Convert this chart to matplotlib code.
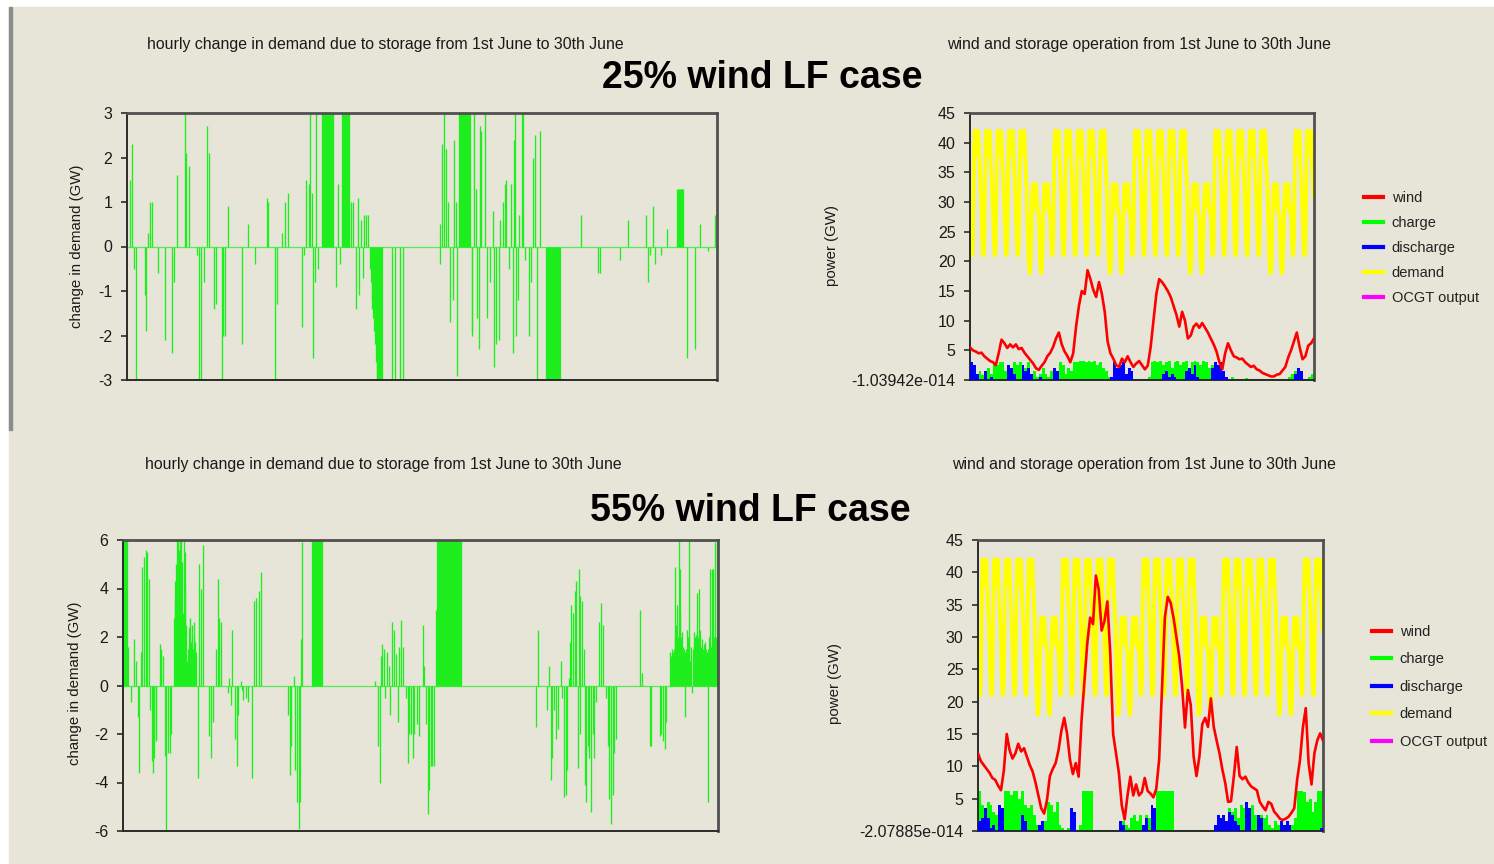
import numpy as np
import matplotlib.pyplot as plt
from matplotlib.lines import Line2D
from matplotlib.patches import Rectangle

plt.rcParams['font.family'] = ['Liberation Sans', 'DejaVu Sans']
plt.rcParams['axes.unicode_minus'] = False

# ---- demand (same for both cases): hourly profile per day type
weekday_profile = [29, 26, 23.5, 22, 21, 21.5, 24, 30, 36, 40, 42, 41,
                   39, 38, 38.5, 39, 40, 42, 41, 38, 36, 35, 33, 31]
weekend_profile = [28, 25, 22, 20, 18.5, 18, 18.5, 20, 23, 27, 30, 32,
                   33, 32, 30, 29, 29.5, 31, 33, 32, 30, 29, 28.5, 28]
day_types = "WWWWWEEWWWWWEEWWWWWEEWWWWWEEWW"   # 1st June .. 30th June

# ---- wind output, read every 6 hours (GW)
wind_25 = [5.5, 5.0, 4.8, 4.5, 4.6, 4.0, 3.6, 3.2, 3.0, 2.5,
           4.5, 6.8, 6.2, 5.4, 6.0, 5.5, 6.0, 5.2, 5.4, 4.6,
           4.0, 3.4, 2.8, 2.0, 1.7, 2.4, 3.0, 4.0, 4.6, 5.6,
           7.0, 8.0, 6.0, 4.8, 4.0, 3.0, 4.5, 9.0, 12.5, 15.0,
           14.5, 18.5, 17.0, 15.2, 14.0, 16.5, 14.5, 11.5, 6.5, 4.5,
           3.6, 2.5, 2.2, 3.6, 3.0, 4.0, 3.0, 2.2, 2.8, 3.2,
           2.5, 1.8, 2.4, 5.5, 10.0, 14.5, 17.0, 16.5, 15.8, 15.0,
           14.0, 12.5, 11.0, 9.0, 11.5, 10.0, 7.0, 7.5, 9.0, 9.5,
           8.8, 9.6, 8.8, 8.0, 7.0, 6.0, 4.8, 3.0, 1.8, 4.5,
           6.2, 5.0, 4.0, 3.8, 3.5, 3.6, 3.0, 2.6, 2.2, 2.4,
           1.8, 1.6, 1.2, 1.0, 0.8, 0.6, 0.6, 0.9, 1.0, 1.6,
           2.2, 3.8, 5.0, 6.5, 8.0, 5.5, 3.5, 4.0, 5.8, 6.2,
           7.0]
wind_55 = [12.0, 10.8, 10.2, 9.6, 9.0, 8.2, 7.9, 7.0, 6.3, 9.4,
           15.0, 12.5, 11.2, 12.0, 13.5, 12.3, 12.8, 11.5, 10.2, 9.2,
           7.5, 5.5, 3.5, 2.7, 4.8, 8.5, 9.6, 10.5, 12.5, 15.5,
           17.5, 15.0, 11.0, 8.8, 10.5, 8.4, 17.0, 23.0, 29.0, 33.0,
           32.0, 39.5, 37.3, 31.0, 32.5, 35.5, 27.5, 15.0, 12.0, 9.0,
           4.0, 1.8, 5.5, 8.4, 5.5, 7.2, 5.5, 6.0, 8.2, 6.2,
           5.8, 5.2, 6.5, 11.0, 22.0, 33.0, 36.2, 35.3, 33.0, 30.0,
           27.0, 22.3, 16.0, 21.8, 19.5, 11.5, 8.5, 11.5, 16.5, 17.5,
           16.1, 20.5, 16.1, 14.0, 12.0, 9.5, 7.4, 4.5, 4.6, 8.5,
           13.0, 8.5, 8.0, 8.4, 7.5, 6.9, 6.6, 6.3, 4.5, 3.8,
           3.2, 4.5, 4.2, 3.0, 2.5, 1.9, 1.7, 1.9, 2.2, 2.8,
           3.5, 7.9, 11.0, 16.0, 19.0, 10.5, 7.2, 12.0, 14.0, 15.1,
           14.0]

# ---- storage charge / discharge, 6-hour blocks (GW)
charge_25 = [0.5, 1.0, 0.5, 1.5, 0.8, 1.0, 2.0, 1.0, 3.0, 2.5,
             3.0, 3.0, 1.5, 2.5, 1.0, 3.0, 2.5, 3.0, 1.5, 2.0,
             3.0, 1.0, 1.5, 0.5, 1.0, 2.0, 1.0, 0.5, 1.5, 0.5,
             1.0, 3.0, 2.5, 1.0, 2.0, 1.5, 3.0, 3.0, 3.2, 3.2,
             3.0, 3.2, 3.0, 3.2, 2.5, 3.0, 2.0, 1.5, 0.5, 0.0,
             0.0, 0.5, 1.0, 0.0, 0.5, 0.0, 0.0, 0.0, 0.0, 0.0,
             0.0, 0.0, 0.5, 3.0, 3.2, 3.0, 3.2, 2.5, 3.0, 3.2,
             2.0, 3.0, 3.2, 2.5, 3.0, 3.2, 2.0, 3.0, 3.2, 3.0,
             2.5, 3.2, 3.0, 2.0, 2.5, 1.5, 1.0, 0.0, 0.5, 0.0,
             0.0, 0.5, 0.0, 0.0, 0.0, 0.0, 0.3, 0.0, 0.0, 0.0,
             0.0, 0.0, 0.0, 0.0, 0.0, 0.0, 0.0, 0.0, 0.0, 0.0,
             0.0, 0.5, 1.0, 1.5, 1.2, 0.0, 0.0, 0.0, 0.5, 1.0]
discharge_25 = [3.0, 2.5, 1.0, 0.0, 0.0, 1.5, 0.0, 0.5, 0.0, 0.0,
                0.0, 0.0, 0.0, 2.5, 2.0, 1.0, 0.0, 0.0, 2.5, 1.5,
                2.0, 1.0, 0.0, 0.0, 0.5, 0.0, 0.0, 0.0, 0.0, 2.0,
                1.5, 0.0, 0.0, 0.0, 0.0, 0.0, 0.0, 0.0, 0.0, 0.0,
                0.0, 0.0, 0.0, 0.0, 0.0, 0.0, 0.0, 0.0, 0.0, 0.5,
                3.0, 2.0, 2.5, 3.0, 1.0, 2.0, 1.5, 0.0, 0.0, 0.0,
                0.0, 0.0, 0.0, 0.0, 0.0, 0.0, 0.0, 1.0, 1.5, 0.5,
                1.0, 0.5, 0.0, 0.0, 0.0, 1.5, 2.0, 1.0, 2.5, 0.5,
                0.0, 0.0, 0.0, 0.0, 2.0, 3.0, 2.5, 3.0, 1.5, 0.5,
                0.0, 0.0, 0.0, 0.0, 0.0, 0.0, 0.0, 0.0, 0.0, 0.0,
                0.0, 0.0, 0.0, 0.0, 0.0, 0.0, 0.0, 0.0, 0.0, 0.0,
                0.0, 0.0, 0.0, 1.0, 2.0, 1.5, 0.0, 0.0, 0.0, 0.0]
charge_55 = [6.2, 4.0, 2.0, 4.5, 4.0, 3.0, 2.5, 0.5, 1.0, 6.2,
             6.2, 5.5, 6.2, 6.2, 5.0, 6.2, 4.0, 3.5, 4.0, 2.5,
             1.0, 0.5, 0.5, 1.5, 4.5, 4.0, 3.0, 4.5, 1.0, 0.5,
             0.0, 0.5, 0.0, 0.5, 0.0, 1.0, 6.2, 6.2, 6.2, 6.2,
             0.0, 0.0, 0.0, 0.0, 0.0, 0.0, 0.0, 0.0, 0.0, 0.5,
             1.5, 1.0, 0.5, 2.0, 2.5, 1.5, 2.5, 0.5, 2.5, 2.0,
             1.5, 0.5, 6.2, 6.2, 6.2, 6.2, 6.2, 6.2, 0.0, 0.0,
             0.0, 0.0, 0.0, 0.0, 0.0, 0.0, 0.0, 0.0, 0.0, 0.0,
             0.0, 0.0, 1.0, 1.5, 2.0, 2.5, 1.5, 3.5, 3.0, 3.5,
             2.0, 4.0, 3.5, 4.5, 3.0, 4.0, 2.5, 0.5, 2.5, 2.0,
             2.5, 1.0, 0.5, 1.5, 1.0, 1.5, 1.0, 1.0, 0.5, 1.0,
             2.0, 6.2, 6.2, 6.0, 4.5, 5.0, 3.0, 4.5, 6.2, 6.2]
discharge_55 = [1.5, 2.0, 3.5, 2.0, 0.5, 1.0, 0.0, 4.0, 3.5, 0.0,
                0.0, 0.0, 0.0, 0.0, 0.0, 2.5, 1.5, 0.0, 0.0, 0.0,
                0.0, 1.0, 1.5, 0.0, 0.0, 0.0, 0.0, 0.0, 0.0, 0.0,
                0.0, 0.0, 3.5, 3.0, 0.0, 0.0, 0.0, 0.0, 0.0, 0.0,
                0.0, 0.0, 0.0, 0.0, 0.0, 0.0, 0.0, 0.0, 0.0, 1.5,
                1.0, 0.0, 0.0, 0.0, 0.0, 0.0, 0.0, 1.0, 2.0, 0.0,
                4.0, 3.5, 0.0, 0.0, 0.0, 0.0, 0.0, 0.0, 0.0, 0.0,
                0.0, 0.0, 0.0, 0.0, 0.0, 0.0, 0.0, 0.0, 0.0, 0.0,
                0.0, 0.0, 1.0, 2.5, 2.0, 2.5, 1.5, 3.0, 2.5, 1.5,
                1.0, 0.0, 0.0, 4.5, 3.5, 0.0, 0.0, 2.5, 2.0, 0.0,
                0.0, 0.0, 0.0, 0.0, 0.0, 1.5, 1.0, 1.5, 1.0, 0.0,
                0.0, 0.0, 0.0, 0.0, 0.0, 0.0, 0.0, 0.0, 0.0, 0.5]

# ---- hourly change in demand: (hour, GW) spikes and (first, last, GW) runs
spikes_25 = [(3, 1.5), (5, 2.3), (8, -0.5), (11, -3.0), (21, -1.1), (23, -1.9), (25, 0.3),
             (27, 1.0), (30, 1.0), (37, -0.6), (46, -2.1), (54, -2.4), (57, -0.8), (61, 1.6),
             (70, 3.0), (72, 2.1), (75, 1.8), (85, -0.2), (87, -3.0), (90, -3.0), (94, -0.8),
             (97, 2.7), (99, 2.1), (106, -1.4), (108, -1.3), (115, -3.0), (117, -2.0), (119, -2.0),
             (123, 0.9), (140, -2.2), (147, 0.5), (156, -0.4), (170, 1.1), (172, 1.0), (180, -3.0),
             (183, -1.3), (189, 0.3), (192, 1.0), (196, 1.2), (213, -1.8), (215, -0.2), (218, 1.5),
             (221, 1.4), (223, 3.0), (225, 1.2), (227, -2.5), (229, -0.8), (230, 3.0), (233, -0.5),
             (255, -0.9), (257, 1.4), (259, -0.4), (273, 1.0), (275, 1.0), (279, -1.4), (281, 1.1),
             (283, -1.1), (285, 0.6), (287, -0.7), (289, 0.7), (291, 0.7), (294, 0.7), (296, -0.5),
             (297, -0.8), (298, -1.2), (299, -1.4), (300, -1.6), (301, -1.9), (302, -2.2), (303, -2.6),
             (323, -3.0), (326, -3.0), (333, -3.0), (336, -3.0), (381, 0.5), (382, -0.4), (384, 2.3),
             (386, 3.0), (389, 2.2), (391, 1.0), (394, -1.7), (397, -1.2), (399, 2.4), (401, 1.0),
             (402, -2.9), (420, -2.0), (421, -1.9), (423, 3.0), (425, 1.3), (427, -1.6), (429, -2.3),
             (430, 2.7), (432, 2.6), (436, 3.0), (439, -1.6), (442, -0.8), (446, 0.8), (447, -2.7),
             (450, -2.2), (453, -2.1), (455, 0.6), (458, 1.0), (461, 1.4), (462, 1.5), (466, -0.5),
             (468, 1.4), (470, -2.4), (472, 2.4), (473, 3.0), (474, -2.0), (477, -1.2), (478, 0.7),
             (481, 3.0), (483, 3.0), (485, -0.3), (490, -2.0), (492, -0.8), (495, 2.0), (498, 2.5),
             (500, -3.0), (503, 2.6), (553, 0.7), (574, -0.6), (577, -0.6), (601, -0.3), (611, 0.6),
             (633, 0.7), (635, -0.8), (638, -0.2), (642, 0.9), (644, -0.4), (651, -0.2), (659, 0.4),
             (683, -2.5), (693, -2.3), (699, 0.5), (709, -0.1), (717, 0.7), (719, -0.8)]
runs_25 = [(238, 251, 3.0), (262, 270, 3.0), (304, 311, -3.0), (405, 418, 3.0),
           (511, 528, -3.0), (671, 678, 1.3)]

spikes_55 = [(5, 1.6), (9, -0.7), (13, 1.9), (15, 1.0), (18, -1.3), (19, -3.6), (21, 1.4), (23, 4.9),
             (25, 5.3), (27, 5.6), (29, 5.5), (31, 4.4), (32, -1.0), (34, -3.1), (36, -3.6), (37, -3.0),
             (39, -2.3), (40, -2.2), (44, 1.7), (46, 1.5), (48, 1.2), (50, -2.9), (52, -6.0), (54, -2.8),
             (56, -2.8), (58, -2.0), (61, 2.8), (62, 3.5), (63, 4.3), (64, 5.0), (65, 6.0), (66, 6.0),
             (67, 5.6), (68, 4.5), (69, 6.0), (70, 6.0), (71, 5.1), (72, 3.0), (73, 6.0), (74, 5.5),
             (75, 4.0), (76, 2.5), (77, 1.0), (78, 1.5), (79, 2.4), (80, 2.0), (81, 2.8), (82, 1.8),
             (83, 2.5), (84, 1.5), (85, 2.0), (86, 2.6), (87, 1.8), (88, 1.4), (90, -3.8), (92, 5.0),
             (94, 4.0), (96, 5.8), (103, -2.1), (106, -3.0), (109, -1.5), (112, 1.5), (114, 4.4),
             (116, 2.8), (118, 2.6), (126, -0.3), (128, 0.3), (130, -0.8), (132, 2.3), (135, -2.2),
             (137, -3.3), (139, -1.2), (142, 0.2), (144, -0.2), (145, -0.6), (148, -0.5), (151, -0.7),
             (156, -3.8), (158, 3.5), (161, 3.6), (164, 3.9), (166, 4.7), (199, -1.2), (201, -3.7),
             (203, -2.5), (206, 0.4), (208, -3.5), (210, -4.8), (212, -5.9), (214, -4.8), (215, 1.9),
             (216, 5.9), (305, 0.2), (308, -2.5), (310, -4.0), (312, 1.2), (313, 1.7), (315, 1.5),
             (317, -0.5), (319, 1.4), (321, 0.8), (323, -1.2), (325, 2.6), (327, 2.3), (330, 1.3),
             (332, -1.5), (334, 1.6), (336, 2.7), (338, 1.6), (342, -0.5), (344, -3.2), (346, -2.0),
             (348, -2.0), (350, -3.0), (352, -2.0), (355, -1.6), (358, -2.1), (362, 2.5), (364, 0.8),
             (366, -1.6), (368, -5.3), (370, -4.3), (372, -3.3), (374, -3.3), (376, -3.3), (378, 3.1),
             (499, -1.7), (502, 2.3), (512, -1.0), (515, 0.8), (517, -3.9), (519, -3.0), (521, -1.0),
             (524, -2.2), (526, -1.8), (529, 1.0), (531, -0.5), (533, -4.6), (535, -4.5), (537, -3.5),
             (539, 0.3), (540, 1.8), (542, 3.3), (544, 3.0), (546, 3.9), (548, 4.3), (550, -3.4),
             (551, 4.8), (552, -2.0), (553, 3.7), (555, 3.5), (557, 1.5), (558, -4.1), (560, -4.8),
             (562, -2.5), (564, -3.0), (566, -5.2), (568, -2.0), (570, -3.0), (572, -0.7), (575, 2.6),
             (578, 3.4), (580, 2.5), (584, -0.5), (586, -2.5), (588, -4.7), (590, -5.7), (592, -4.5),
             (594, -2.8), (596, -2.2), (625, 3.1), (627, 0.5), (637, -2.5), (639, -2.5), (649, -2.1),
             (651, -2.0), (653, -2.3), (655, -2.6), (657, -1.5), (662, 1.4), (663, 1.2), (664, 1.5),
             (665, 1.4), (666, 1.5), (667, 2.0), (668, 4.9), (669, 2.5), (670, 3.3), (671, 2.0),
             (672, 6.0), (673, 3.0), (674, 4.8), (675, 2.0), (676, 2.2), (677, 1.6), (678, 1.5),
             (679, 1.4), (680, -1.3), (681, 1.5), (682, 2.3), (683, 2.0), (684, 6.0), (685, 2.0),
             (686, 1.0), (687, 1.6), (688, -0.3), (689, 1.5), (690, 2.2), (691, 1.8), (692, 2.0),
             (693, 2.1), (694, 3.8), (695, 2.0), (696, 4.0), (697, 1.8), (698, 2.3), (699, 1.6),
             (700, 1.9), (701, 1.5), (702, 1.7), (703, 1.6), (704, 1.8), (705, 1.5), (706, 1.4),
             (707, 1.5), (708, -4.8), (709, 2.0), (710, 4.8), (711, 1.6), (712, 4.8), (713, 1.8),
             (714, 4.8), (715, 2.0), (716, 5.9), (717, 2.0), (718, 6.0), (719, 1.8)]
runs_55 = [(0, 4, 6.0), (228, 240, 6.0), (380, 408, 6.0)]

BG = '#E6E5D7'
GREEN = '#1EEE1E'
W, H = 1494, 864


def hourly(spikes, runs):
    s = np.zeros(len(day_types) * 24)
    for a, b, v in runs:
        s[a:b + 1] = v
    for h, v in spikes:
        s[h] = v
    return s


def frame(ax):
    ax.set_facecolor(BG)
    for side in ['left', 'bottom']:
        ax.spines[side].set_color('#2a2a2a')
        ax.spines[side].set_linewidth(1.4)
    for side in ['top', 'right']:
        ax.spines[side].set_color('#505050')
        ax.spines[side].set_linewidth(2.0)
    ax.set_xticks([])
    ax.tick_params(axis='y', direction='out', length=4.5, width=1.2,
                   color='#2a2a2a', labelsize=11.5, pad=6, labelcolor='#1a1a1a')


def change_chart(rect, spikes, runs, lim, step):
    ax = fig.add_axes(rect)
    frame(ax)
    ch = hourly(spikes, runs)
    hrs = np.arange(len(ch))
    ax.axhline(0, color=GREEN, lw=0.9, alpha=0.7)
    ax.vlines(hrs, 0, ch, color=GREEN, lw=0.95)
    ax.set_xlim(-0.5, len(ch) - 0.5)
    ax.set_ylim(-lim, lim)
    ax.set_yticks(np.arange(-lim, lim + 1, step))
    return ax


def power_chart(rect, wind, charge, discharge, zero_label):
    ax = fig.add_axes(rect)
    frame(ax)
    demand = np.concatenate([weekday_profile if d == 'W' else weekend_profile
                             for d in day_types])
    ax.plot(np.arange(len(demand)), demand, color='#FFFF00', lw=2.8, zorder=1)
    blk = np.arange(len(charge)) * 6
    ax.bar(blk, charge, width=6, align='edge', color='#00FF00', lw=0, zorder=2)
    ax.axhline(0, color='#00FF00', lw=2.2, zorder=2)
    ax.bar(blk, discharge, width=6, align='edge', color='#0000FF', lw=0, zorder=3)
    ax.plot(np.linspace(0, 720, len(wind)), wind, color='#FF0000', lw=1.9, zorder=4)
    ax.set_xlim(0, 720)
    ax.set_ylim(0, 45)
    ax.set_yticks(np.arange(0, 46, 5))
    ax.set_yticklabels([zero_label] + [str(v) for v in range(5, 46, 5)])
    return ax


def legend(x, y, spacing):
    labels = ['wind', 'charge', 'discharge', 'demand', 'OCGT output']
    colors = ['#FF0000', '#00FF00', '#0000FF', '#FFFF00', '#FF00FF']
    handles = [Line2D([], [], color=c, lw=3) for c in colors]
    fig.legend(handles, labels, loc='upper left', bbox_to_anchor=(x / W, 1 - y / H),
               frameon=False, fontsize=10.5, handlelength=1.3, handletextpad=0.6,
               labelspacing=spacing, borderpad=0, borderaxespad=0, labelcolor='#222222')


fig = plt.figure(figsize=(W / 100, H / 100), dpi=100, facecolor='white')
fig.add_artist(Rectangle((9 / W, 0), 1 - 9 / W, 1 - 7 / H, transform=fig.transFigure,
                         color=BG, zorder=-10))
fig.add_artist(Rectangle((9 / W, 1 - 430 / H), 2.5 / W, 423 / H, transform=fig.transFigure,
                         color='#8c8c8c', zorder=-9))

# 25% case
change_chart([127 / W, 1 - 380 / H, 590 / W, 267 / H], spikes_25, runs_25, 3, 1)
power_chart([970 / W, 1 - 380 / H, 344 / W, 267 / H], wind_25, charge_25, discharge_25,
            '-1.03942e-014')
legend(1364, 191, 0.76)

# 55% case
change_chart([123 / W, 1 - 831 / H, 595 / W, 291 / H], spikes_55, runs_55, 6, 2)
power_chart([978 / W, 1 - 831 / H, 345 / W, 291 / H], wind_55, charge_55, discharge_55,
            '-2.07885e-014')
legend(1372, 625, 0.92)

small = dict(fontsize=11.4, color='#1a1a1a', ha='center', va='center')
fig.text(385 / W, 1 - 44 / H, 'hourly change in demand due to storage from 1st June to 30th June', **small)
fig.text(1139 / W, 1 - 44 / H, 'wind and storage operation from 1st June to 30th June', **small)
fig.text(383 / W, 1 - 465 / H, 'hourly change in demand due to storage from 1st June to 30th June', **small)
fig.text(1144 / W, 1 - 465 / H, 'wind and storage operation from 1st June to 30th June', **small)
ylab = dict(small, fontsize=10.8)
fig.text(77 / W, 1 - 246 / H, 'change in demand (GW)', rotation=90, **ylab)
fig.text(75 / W, 1 - 683 / H, 'change in demand (GW)', rotation=90, **ylab)
fig.text(832 / W, 1 - 245 / H, 'power (GW)', rotation=90, **ylab)
fig.text(835 / W, 1 - 683 / H, 'power (GW)', rotation=90, **ylab)

fig.text(762 / W, 1 - 78 / H, '25% wind LF case', fontsize=27, fontweight='bold',
         ha='center', va='center')
fig.text(750 / W, 1 - 511 / H, '55% wind LF case', fontsize=27, fontweight='bold',
         ha='center', va='center')

fig.savefig('out.png', dpi=100, facecolor=fig.get_facecolor())
